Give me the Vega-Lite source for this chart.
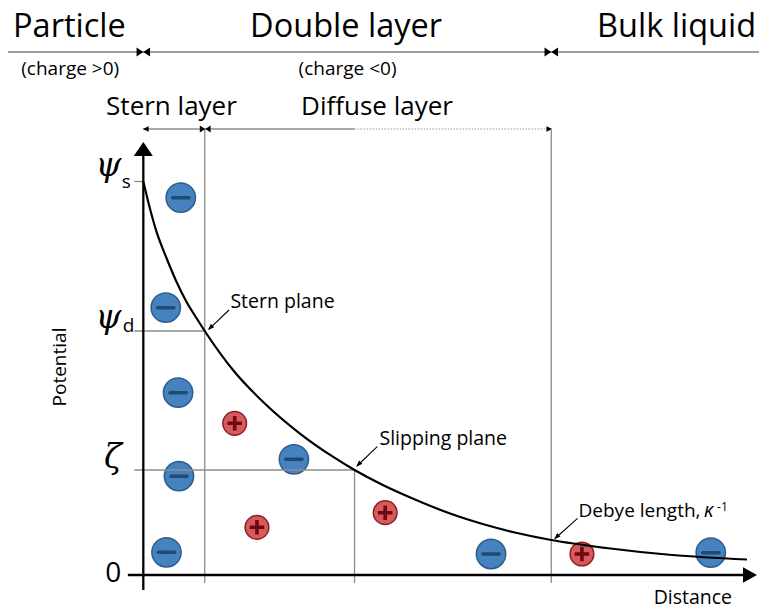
{
  "$schema": "https://vega.github.io/schema/vega-lite/v6.json",
  "width": 760,
  "height": 612,
  "padding": 0,
  "autosize": {"type": "fit", "contains": "padding"},
  "background": "white",
  "config": {"view": {"stroke": null}},
  "datasets": {
    "curve": [
      {"d": 0, "p": 393.5}, {"d": 6.5, "p": 367}, {"d": 13.2, "p": 343.3}, {"d": 23.2, "p": 317},
      {"d": 33.2, "p": 293.3}, {"d": 43.2, "p": 273.3}, {"d": 53.2, "p": 257}, {"d": 61.5, "p": 244},
      {"d": 89.8, "p": 205}, {"d": 123.2, "p": 170}, {"d": 156.5, "p": 141.7}, {"d": 189.8, "p": 118.3},
      {"d": 211.5, "p": 105}, {"d": 239.8, "p": 90}, {"d": 273.2, "p": 75}, {"d": 306.5, "p": 61.7},
      {"d": 339.8, "p": 51}, {"d": 373.2, "p": 42.3}, {"d": 408.5, "p": 35}, {"d": 463.5, "p": 27},
      {"d": 529.5, "p": 20}, {"d": 604.5, "p": 15.5}
    ],
    "ions": [
      {"d": 37.5, "p": 377.3, "charge": "negative"},
      {"d": 22.5, "p": 267.3, "charge": "negative"},
      {"d": 34.8, "p": 182.3, "charge": "negative"},
      {"d": 35.7, "p": 98.8, "charge": "negative"},
      {"d": 23.2, "p": 22.7, "charge": "negative"},
      {"d": 150.8, "p": 115.7, "charge": "negative"},
      {"d": 348.2, "p": 21, "charge": "negative"},
      {"d": 568.2, "p": 22.3, "charge": "negative"},
      {"d": 91.5, "p": 151.7, "charge": "positive"},
      {"d": 113.8, "p": 47.7, "charge": "positive"},
      {"d": 242.2, "p": 62.3, "charge": "positive"},
      {"d": 439.2, "p": 21, "charge": "positive"}
    ],
    "guides": [
      {"name": "Stern plane", "d": 61.5, "p": 445, "d2": 61.5, "p2": -8},
      {"name": "Slipping plane", "d": 211.5, "p": 105, "d2": 211.5, "p2": -8},
      {"name": "Debye length", "d": 408.5, "p": 445, "d2": 408.5, "p2": -8},
      {"name": "psi s", "d": -9, "p": 393.5, "d2": 0, "p2": 393.5},
      {"name": "psi d", "d": -9, "p": 244, "d2": 61.5, "p2": 244},
      {"name": "zeta", "d": -9, "p": 105, "d2": 211.5, "p2": 105}
    ],
    "axes": [
      {"name": "potential", "d": 0, "p": -15, "d2": 0, "p2": 422},
      {"name": "distance", "d": -15.5, "p": 0, "d2": 602, "p2": 0}
    ],
    "upTip": [{"d": 0, "p": 433}],
    "rightTip": [{"d": 614.5, "p": 0}],
    "headerLine": [{"d": -135.5, "p": 523, "d2": 616.5, "p2": 523}],
    "headerBounds": [{"d": 0, "p": 523}, {"d": 408.5, "p": 523}],
    "layerSolid": [{"d": 0, "p": 446, "d2": 211.5, "p2": 446}],
    "layerDotted": [{"d": 211.5, "p": 446, "d2": 405, "p2": 446}],
    "layerBound": [{"d": 62, "p": 446}],
    "layerLeftTip": [{"d": -0.5, "p": 446}],
    "layerRightTip": [{"d": 409.5, "p": 446}],
    "pointers": [
      {"name": "Stern plane", "d": 85.8, "p": 265, "d2": 65.5, "p2": 245.7},
      {"name": "Slipping plane", "d": 234.2, "p": 128.3, "d2": 214, "p2": 109},
      {"name": "Debye length", "d": 434.8, "p": 56.7, "d2": 412.3, "p2": 36.5}
    ],
    "pointerTips": [
      {"d": 64.8, "p": 245}, {"d": 213.2, "p": 108.3}, {"d": 411.5, "p": 35.7}
    ],
    "regions": [
      {"label": "Particle", "d": -74, "p": 538},
      {"label": "Double layer", "d": 203, "p": 538},
      {"label": "Bulk liquid", "d": 534, "p": 538}
    ],
    "charges": [
      {"label": "(charge >0)", "d": -73.2, "p": 500},
      {"label": "(charge <0)", "d": 204.5, "p": 500}
    ],
    "layers": [
      {"label": "Stern layer", "d": 28.2, "p": 460},
      {"label": "Diffuse layer", "d": 234, "p": 460}
    ],
    "notes": [
      {"label": "Stern plane", "d": 87.2, "p": 267},
      {"label": "Slipping plane", "d": 236.5, "p": 130}
    ],
    "debye": [{"label": "Debye length,", "d": 435.8, "p": 58.3}],
    "kappa": [{"label": "κ", "d": 561.5, "p": 58.3}],
    "kappaExp": [{"label": "-1", "d": 574.5, "p": 64.5}],
    "xTitle": [{"label": "Distance", "d": 589.5, "p": -29}],
    "yTitle": [{"label": "Potential", "d": -83.5, "p": 208}],
    "zero": [{"label": "0", "d": -30, "p": -6.7}],
    "greek": [
      {"label": "ψ", "d": -35, "p": 399},
      {"label": "ψ", "d": -35, "p": 247},
      {"label": "ζ", "d": -30.5, "p": 107}
    ],
    "subs": [
      {"label": "s", "d": -21.5, "p": 387},
      {"label": "d", "d": -20.5, "p": 243}
    ]
  },
  "encoding": {
    "x": {"field": "d", "type": "quantitative", "scale": {"domain": [-143.5, 616.5], "nice": false, "zero": false}, "axis": null},
    "y": {"field": "p", "type": "quantitative", "scale": {"domain": [-37, 575], "nice": false, "zero": false}, "axis": null}
  },
  "layer": [
    {
      "data": {"name": "ions"},
      "mark": {"type": "point", "filled": true, "shape": "circle", "strokeWidth": 1.5, "opacity": 1},
      "encoding": {
        "fill": {"field": "charge", "type": "nominal", "scale": {"domain": ["negative", "positive"], "range": ["#4682be", "#d65a5f"]}, "legend": null},
        "stroke": {"field": "charge", "type": "nominal", "scale": {"domain": ["negative", "positive"], "range": ["#2c5d8c", "#8e1f22"]}, "legend": null},
        "size": {"field": "charge", "type": "ordinal", "scale": {"domain": ["negative", "positive"], "range": [860, 560]}, "legend": null}
      }
    },
    {
      "data": {"name": "ions"},
      "transform": [{"filter": "datum.charge === 'negative'"}],
      "mark": {"type": "point", "filled": false, "shape": "M-1,0L1,0", "size": 260, "stroke": "#1f4a72", "strokeWidth": 3.6, "strokeCap": "round", "opacity": 1}
    },
    {
      "data": {"name": "ions"},
      "transform": [{"filter": "datum.charge === 'positive'"}],
      "mark": {"type": "point", "filled": false, "shape": "M-1,0L1,0M0,-1L0,1", "size": 210, "stroke": "#6e0a0d", "strokeWidth": 3.6, "strokeCap": "butt", "opacity": 1}
    },
    {
      "data": {"name": "guides"},
      "mark": {"type": "rule", "color": "#8c8c8c", "strokeWidth": 1.3},
      "encoding": {"x2": {"field": "d2"}, "y2": {"field": "p2"}}
    },
    {
      "data": {"name": "curve"},
      "mark": {"type": "line", "color": "#000000", "strokeWidth": 2.2, "interpolate": "monotone"},
      "encoding": {"order": {"field": "d", "type": "quantitative"}}
    },
    {
      "data": {"name": "axes"},
      "mark": {"type": "rule", "color": "#000000", "strokeWidth": 2.3},
      "encoding": {"x2": {"field": "d2"}, "y2": {"field": "p2"}}
    },
    {
      "data": {"name": "upTip"},
      "mark": {"type": "point", "filled": true, "shape": "M0,0L0.68,1L-0.68,1Z", "size": 784, "color": "#000000", "opacity": 1, "strokeWidth": 0}
    },
    {
      "data": {"name": "rightTip"},
      "mark": {"type": "point", "filled": true, "shape": "M0,0L-1,-0.55L-1,0.55Z", "size": 784, "color": "#000000", "opacity": 1, "strokeWidth": 0}
    },
    {
      "data": {"name": "headerLine"},
      "mark": {"type": "rule", "color": "#808080", "strokeWidth": 1.7},
      "encoding": {"x2": {"field": "d2"}, "y2": {"field": "p2"}}
    },
    {
      "data": {"name": "headerBounds"},
      "mark": {"type": "point", "filled": true, "shape": "M-1.5,-1L0,0L-1.5,1ZM1.5,-1L0,0L1.5,1Z", "size": 81, "color": "#000000", "opacity": 1, "strokeWidth": 0}
    },
    {
      "data": {"name": "layerSolid"},
      "mark": {"type": "rule", "color": "#555555", "strokeWidth": 1.1},
      "encoding": {"x2": {"field": "d2"}, "y2": {"field": "p2"}}
    },
    {
      "data": {"name": "layerDotted"},
      "mark": {"type": "rule", "color": "#9a9a9a", "strokeWidth": 1.1, "strokeDash": [1.5, 1.5]},
      "encoding": {"x2": {"field": "d2"}, "y2": {"field": "p2"}}
    },
    {
      "data": {"name": "layerBound"},
      "mark": {"type": "point", "filled": true, "shape": "M-1.5,-1L0,0L-1.5,1ZM1.5,-1L0,0L1.5,1Z", "size": 52, "color": "#000000", "opacity": 1, "strokeWidth": 0}
    },
    {
      "data": {"name": "layerLeftTip"},
      "mark": {"type": "point", "filled": true, "shape": "M0,0L1.3,-0.6L1.3,0.6Z", "size": 81, "color": "#000000", "opacity": 1, "strokeWidth": 0}
    },
    {
      "data": {"name": "layerRightTip"},
      "mark": {"type": "point", "filled": true, "shape": "M0,0L-1.3,-0.6L-1.3,0.6Z", "size": 81, "color": "#000000", "opacity": 1, "strokeWidth": 0}
    },
    {
      "data": {"name": "pointers"},
      "mark": {"type": "rule", "color": "#000000", "strokeWidth": 1.1},
      "encoding": {"x2": {"field": "d2"}, "y2": {"field": "p2"}}
    },
    {
      "data": {"name": "pointerTips"},
      "mark": {"type": "point", "filled": true, "shape": "M0,0L1.55,-0.71L0.71,-1.55Z", "size": 64, "color": "#000000", "opacity": 1, "strokeWidth": 0}
    },
    {
      "data": {"name": "regions"},
      "mark": {"type": "text", "font": "Open Sans", "fontSize": 32.5, "align": "center", "baseline": "alphabetic", "color": "#000000"},
      "encoding": {"text": {"field": "label"}}
    },
    {
      "data": {"name": "charges"},
      "mark": {"type": "text", "font": "Open Sans", "fontSize": 19, "align": "center", "baseline": "alphabetic", "color": "#000000"},
      "encoding": {"text": {"field": "label"}}
    },
    {
      "data": {"name": "layers"},
      "mark": {"type": "text", "font": "Open Sans", "fontSize": 26, "align": "center", "baseline": "alphabetic", "color": "#000000"},
      "encoding": {"text": {"field": "label"}}
    },
    {
      "data": {"name": "notes"},
      "mark": {"type": "text", "font": "Open Sans", "fontSize": 19.5, "align": "left", "baseline": "alphabetic", "color": "#000000"},
      "encoding": {"text": {"field": "label"}}
    },
    {
      "data": {"name": "debye"},
      "mark": {"type": "text", "font": "Open Sans", "fontSize": 19, "align": "left", "baseline": "alphabetic", "color": "#000000"},
      "encoding": {"text": {"field": "label"}}
    },
    {
      "data": {"name": "kappa"},
      "mark": {"type": "text", "font": "Open Sans", "fontStyle": "italic", "fontSize": 19.5, "align": "left", "baseline": "alphabetic", "color": "#000000"},
      "encoding": {"text": {"field": "label"}}
    },
    {
      "data": {"name": "kappaExp"},
      "mark": {"type": "text", "font": "Open Sans", "fontSize": 12, "align": "left", "baseline": "alphabetic", "color": "#000000"},
      "encoding": {"text": {"field": "label"}}
    },
    {
      "data": {"name": "xTitle"},
      "mark": {"type": "text", "font": "Open Sans", "fontSize": 19.5, "align": "right", "baseline": "alphabetic", "color": "#000000"},
      "encoding": {"text": {"field": "label"}}
    },
    {
      "data": {"name": "yTitle"},
      "mark": {"type": "text", "font": "Open Sans", "fontSize": 19, "align": "center", "baseline": "middle", "angle": 270, "color": "#000000"},
      "encoding": {"text": {"field": "label"}}
    },
    {
      "data": {"name": "zero"},
      "mark": {"type": "text", "font": "Open Sans", "fontSize": 28, "align": "center", "baseline": "alphabetic", "color": "#000000"},
      "encoding": {"text": {"field": "label"}}
    },
    {
      "data": {"name": "greek"},
      "mark": {"type": "text", "font": "DejaVu Serif", "fontStyle": "italic", "fontSize": 33, "align": "center", "baseline": "alphabetic", "color": "#000000"},
      "encoding": {"text": {"field": "label"}}
    },
    {
      "data": {"name": "subs"},
      "mark": {"type": "text", "font": "Open Sans", "fontSize": 19, "align": "left", "baseline": "alphabetic", "color": "#000000"},
      "encoding": {"text": {"field": "label"}}
    }
  ]
}
